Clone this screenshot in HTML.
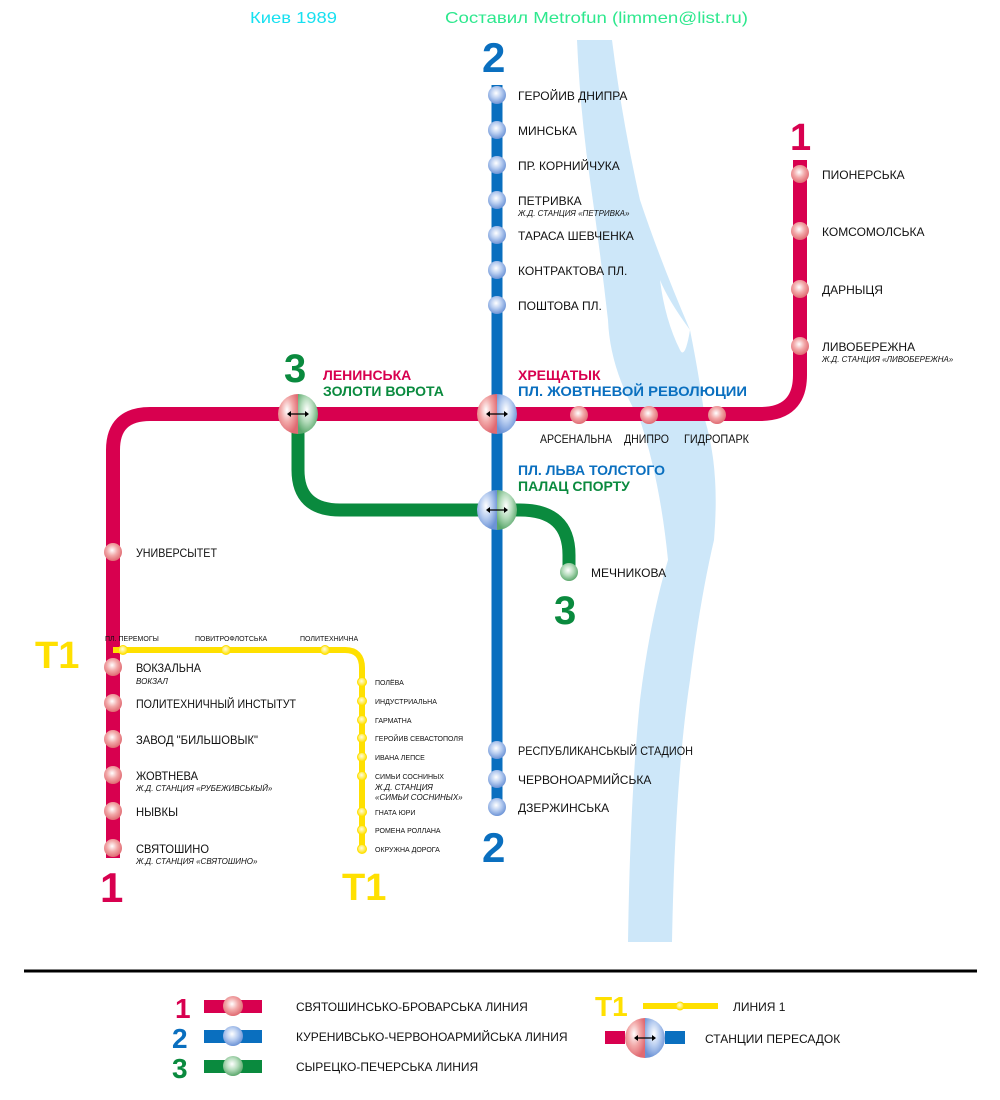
<!DOCTYPE html>
<html><head><meta charset="utf-8">
<style>
html,body{margin:0;padding:0;background:#fff;}
svg{display:block;}
text{font-family:"Liberation Sans","DejaVu Sans",sans-serif;}
.s{font-size:12px;fill:#111;}
.i{font-size:8px;font-style:italic;fill:#111;}
.y{font-size:7px;fill:#111;}
</style></head>
<body>
<svg width="1000" height="1100" viewBox="0 0 1000 1100" xmlns="http://www.w3.org/2000/svg">
<defs>
<radialGradient id="gr" cx="45%" cy="40%" r="60%"><stop offset="0" stop-color="#fff"/><stop offset="0.5" stop-color="#f2a9a9"/><stop offset="1" stop-color="#e06a72"/></radialGradient>
<radialGradient id="gb" cx="45%" cy="40%" r="60%"><stop offset="0" stop-color="#fff"/><stop offset="0.5" stop-color="#b8cdf0"/><stop offset="1" stop-color="#6c93d6"/></radialGradient>
<radialGradient id="gg" cx="45%" cy="40%" r="60%"><stop offset="0" stop-color="#fff"/><stop offset="0.5" stop-color="#b5dcbc"/><stop offset="1" stop-color="#5ca86d"/></radialGradient>
<radialGradient id="gy" cx="45%" cy="40%" r="60%"><stop offset="0" stop-color="#fffde0"/><stop offset="1" stop-color="#ffe000"/></radialGradient>
</defs>

<!-- river -->
<path d="M577,40 L612,40 Q622,120 640,200 Q660,260 690,330 Q700,380 705,420 Q720,470 714,540 Q700,600 690,680 Q675,780 672,942 L628,942 Q630,800 640,700 Q650,620 668,560 Q660,480 640,420 Q610,370 608,320 Q600,250 590,180 Q580,110 577,40 Z" fill="#cde7f9"/>
<path d="M660,280 Q668,300 690,330 Q685,360 680,350 Q665,320 660,280 Z" fill="#fff"/>

<!-- header -->
<text x="250" y="23" font-size="16" fill="#17e0f0" font-family="DejaVu Sans Mono, monospace" textLength="87" lengthAdjust="spacingAndGlyphs">Киев 1989</text>
<text x="445" y="23" font-size="16" fill="#2ee88e" font-family="DejaVu Sans Mono, monospace" textLength="303" lengthAdjust="spacingAndGlyphs">Составил Metrofun (limmen@list.ru)</text>

<!-- line 2 -->
<line x1="497" y1="85" x2="497" y2="810" stroke="#0a6fbf" stroke-width="11"/>
<!-- line 1 -->
<path d="M113,858 L113,450 Q113,414 150,414 L760,414 Q800,414 800,375 L800,160" fill="none" stroke="#d8004f" stroke-width="14"/>
<!-- line 3 -->
<path d="M298,414 L298,470 Q298,510 340,510 L520,510 Q569,510 569,555 L569,572" fill="none" stroke="#0a8a3e" stroke-width="13"/>
<!-- T1 -->
<path d="M113,650 L345,650 Q362,650 362,668 L362,851" fill="none" stroke="#ffe000" stroke-width="6"/>

<!-- big numbers -->
<g font-weight="bold" font-family="Liberation Sans, sans-serif">
<text x="482" y="72" font-size="42" fill="#0a6fbf">2</text>
<text x="482" y="862" font-size="42" fill="#0a6fbf">2</text>
<text x="790" y="150" font-size="38" fill="#d8004f">1</text>
<text x="100" y="902" font-size="42" fill="#d8004f">1</text>
<text x="284" y="382" font-size="40" fill="#0a8a3e">3</text>
<text x="554" y="624" font-size="40" fill="#0a8a3e">3</text>
<text x="35" y="668" font-size="38" fill="#ffe000">T1</text>
<text x="342" y="900" font-size="38" fill="#ffe000">T1</text>
</g>

<!-- blue stations -->
<g fill="url(#gb)">
<circle cx="497" cy="95" r="9"/><circle cx="497" cy="130" r="9"/><circle cx="497" cy="165" r="9"/><circle cx="497" cy="200" r="9"/><circle cx="497" cy="235" r="9"/><circle cx="497" cy="270" r="9"/><circle cx="497" cy="305" r="9"/>
<circle cx="497" cy="750" r="9"/><circle cx="497" cy="779" r="9"/><circle cx="497" cy="807" r="9"/>
</g>
<g class="s">
<text x="518" y="100">ГЕРОЙИВ ДНИПРА</text>
<text x="518" y="135">МИНСЬКА</text>
<text x="518" y="170">ПР. КОРНИЙЧУКА</text>
<text x="518" y="205">ПЕТРИВКА</text>
<text x="518" y="240">ТАРАСА ШЕВЧЕНКА</text>
<text x="518" y="275">КОНТРАКТОВА ПЛ.</text>
<text x="518" y="310">ПОШТОВА ПЛ.</text>
<text x="518" y="755" textLength="175" lengthAdjust="spacingAndGlyphs">РЕСПУБЛИКАНСЬКЫЙ СТАДИОН</text>
<text x="518" y="784">ЧЕРВОНОАРМИЙСЬКА</text>
<text x="518" y="812">ДЗЕРЖИНСЬКА</text>
</g>
<text x="518" y="216" class="i">Ж.Д. СТАНЦИЯ «ПЕТРИВКА»</text>

<!-- red stations -->
<g fill="url(#gr)">
<circle cx="800" cy="174" r="9"/><circle cx="800" cy="231" r="9"/><circle cx="800" cy="289" r="9"/><circle cx="800" cy="346" r="9"/>
<circle cx="579" cy="415" r="9"/><circle cx="649" cy="415" r="9"/><circle cx="717" cy="415" r="9"/>
<circle cx="113" cy="552" r="9"/><circle cx="113" cy="667" r="9"/><circle cx="113" cy="703" r="9"/><circle cx="113" cy="739" r="9"/><circle cx="113" cy="775" r="9"/><circle cx="113" cy="811" r="9"/><circle cx="113" cy="848" r="9"/>
</g>
<g class="s">
<text x="822" y="179">ПИОНЕРСЬКА</text>
<text x="822" y="236">КОМСОМОЛСЬКА</text>
<text x="822" y="294">ДАРНЫЦЯ</text>
<text x="822" y="351">ЛИВОБЕРЕЖНА</text>
<text x="540" y="443" textLength="72" lengthAdjust="spacingAndGlyphs">АРСЕНАЛЬНА</text>
<text x="624" y="443" textLength="45" lengthAdjust="spacingAndGlyphs">ДНИПРО</text>
<text x="684" y="443" textLength="65" lengthAdjust="spacingAndGlyphs">ГИДРОПАРК</text>
<text x="136" y="557" textLength="81" lengthAdjust="spacingAndGlyphs">УНИВЕРСЫТЕТ</text>
<text x="136" y="672" textLength="65" lengthAdjust="spacingAndGlyphs">ВОКЗАЛЬНА</text>
<text x="136" y="708" textLength="160" lengthAdjust="spacingAndGlyphs">ПОЛИТЕХНИЧНЫЙ ИНСТЫТУТ</text>
<text x="136" y="744" textLength="122" lengthAdjust="spacingAndGlyphs">ЗАВОД "БИЛЬШОВЫК"</text>
<text x="136" y="780" textLength="62" lengthAdjust="spacingAndGlyphs">ЖОВТНЕВА</text>
<text x="136" y="816" textLength="42" lengthAdjust="spacingAndGlyphs">НЫВКЫ</text>
<text x="136" y="853" textLength="73" lengthAdjust="spacingAndGlyphs">СВЯТОШИНО</text>
</g>
<text x="822" y="362" class="i">Ж.Д. СТАНЦИЯ «ЛИВОБЕРЕЖНА»</text>
<text x="136" y="684" class="i">ВОКЗАЛ</text>
<text x="136" y="791" class="i">Ж.Д. СТАНЦИЯ «РУБЕЖИВСЬКЫЙ»</text>
<text x="136" y="864" class="i">Ж.Д. СТАНЦИЯ «СВЯТОШИНО»</text>

<!-- green station -->
<circle cx="569" cy="572" r="9" fill="url(#gg)"/>
<text x="591" y="577" class="s">МЕЧНИКОВА</text>

<!-- yellow stations -->
<g fill="url(#gy)" stroke="#ffe000" stroke-width="1">
<circle cx="123" cy="650" r="4.5"/><circle cx="226" cy="650" r="4.5"/><circle cx="325" cy="650" r="4.5"/>
<circle cx="362" cy="682" r="4.5"/><circle cx="362" cy="701" r="4.5"/><circle cx="362" cy="720" r="4.5"/><circle cx="362" cy="738" r="4.5"/><circle cx="362" cy="757" r="4.5"/><circle cx="362" cy="776" r="4.5"/><circle cx="362" cy="812" r="4.5"/><circle cx="362" cy="830" r="4.5"/><circle cx="362" cy="849" r="4.5"/>
</g>
<g class="y">
<text x="105" y="641">ПЛ. ПЕРЕМОГЫ</text>
<text x="195" y="641">ПОВИТРОФЛОТСЬКА</text>
<text x="300" y="641">ПОЛИТЕХНИЧНА</text>
<text x="375" y="685">ПОЛЁВА</text>
<text x="375" y="704">ИНДУСТРИАЛЬНА</text>
<text x="375" y="723">ГАРМАТНА</text>
<text x="375" y="741">ГЕРОЙИВ СЕВАСТОПОЛЯ</text>
<text x="375" y="760">ИВАНА ЛЕПСЕ</text>
<text x="375" y="779">СИМЬИ СОСНИНЫХ</text>
<text x="375" y="815">ГНАТА ЮРИ</text>
<text x="375" y="833">РОМЕНА РОЛЛАНА</text>
<text x="375" y="852">ОКРУЖНА ДОРОГА</text>
</g>
<text x="375" y="790" class="i">Ж.Д. СТАНЦИЯ</text>
<text x="375" y="800" class="i">«СИМЬИ СОСНИНЫХ»</text>

<!-- interchanges -->
<g>
<path d="M298,394 A20,20 0 0 0 298,434 Z" fill="url(#gr)"/><path d="M298,394 A20,20 0 0 1 298,434 Z" fill="url(#gg)"/>
<path d="M497,394 A20,20 0 0 0 497,434 Z" fill="url(#gr)"/><path d="M497,394 A20,20 0 0 1 497,434 Z" fill="url(#gb)"/>
<path d="M497,490 A20,20 0 0 0 497,530 Z" fill="url(#gb)"/><path d="M497,490 A20,20 0 0 1 497,530 Z" fill="url(#gg)"/>
</g>
<g stroke="#000" stroke-width="1.3" fill="#000">
<line x1="289" y1="414" x2="307" y2="414"/><path d="M287,414 l4,-3 v6z M309,414 l-4,-3 v6z" stroke="none"/>
<line x1="488" y1="414" x2="506" y2="414"/><path d="M486,414 l4,-3 v6z M508,414 l-4,-3 v6z" stroke="none"/>
<line x1="488" y1="510" x2="506" y2="510"/><path d="M486,510 l4,-3 v6z M508,510 l-4,-3 v6z" stroke="none"/>
</g>

<!-- interchange labels -->
<g font-weight="bold" font-size="14">
<text x="323" y="380" fill="#d8004f">ЛЕНИНСЬКА</text>
<text x="323" y="396" fill="#0a8a3e">ЗОЛОТИ ВОРОТА</text>
<text x="518" y="380" fill="#d8004f">ХРЕЩАТЫК</text>
<text x="518" y="396" fill="#0a6fbf" textLength="229" lengthAdjust="spacingAndGlyphs">ПЛ. ЖОВТНЕВОЙ РЕВОЛЮЦИИ</text>
<text x="518" y="475" fill="#0a6fbf">ПЛ. ЛЬВА ТОЛСТОГО</text>
<text x="518" y="491" fill="#0a8a3e">ПАЛАЦ СПОРТУ</text>
</g>

<!-- separator -->
<line x1="24" y1="971" x2="977" y2="971" stroke="#000" stroke-width="3"/>

<!-- legend -->
<g font-weight="bold">
<text x="175" y="1018" font-size="28" fill="#d8004f">1</text>
<text x="172" y="1048" font-size="28" fill="#0a6fbf">2</text>
<text x="172" y="1078" font-size="28" fill="#0a8a3e">3</text>
<text x="595" y="1016" font-size="28" fill="#ffe000">T1</text>
</g>
<rect x="204" y="1000" width="58" height="13" fill="#d8004f"/><circle cx="233" cy="1006" r="10" fill="url(#gr)"/>
<rect x="204" y="1030" width="58" height="13" fill="#0a6fbf"/><circle cx="233" cy="1036" r="10" fill="url(#gb)"/>
<rect x="204" y="1060" width="58" height="13" fill="#0a8a3e"/><circle cx="233" cy="1066" r="10" fill="url(#gg)"/>
<rect x="643" y="1003" width="75" height="6" fill="#ffe000"/><circle cx="680" cy="1006" r="4" fill="url(#gy)" stroke="#ffe000"/>
<rect x="605" y="1031" width="20" height="13" fill="#d8004f"/><rect x="665" y="1031" width="20" height="13" fill="#0a6fbf"/>
<path d="M645,1018 A20,20 0 0 0 645,1058 Z" fill="url(#gr)"/><path d="M645,1018 A20,20 0 0 1 645,1058 Z" fill="url(#gb)"/>
<line x1="636" y1="1038" x2="654" y2="1038" stroke="#000" stroke-width="1.3"/><path d="M634,1038 l4,-3 v6z M656,1038 l-4,-3 v6z"/>
<g class="s">
<text x="296" y="1011">СВЯТОШИНСЬКО-БРОВАРСЬКА ЛИНИЯ</text>
<text x="296" y="1041">КУРЕНИВСЬКО-ЧЕРВОНОАРМИЙСЬКА ЛИНИЯ</text>
<text x="296" y="1071">СЫРЕЦКО-ПЕЧЕРСЬКА ЛИНИЯ</text>
<text x="733" y="1011">ЛИНИЯ 1</text>
<text x="705" y="1043">СТАНЦИИ ПЕРЕСАДОК</text>
</g>
</svg>
</body></html>
